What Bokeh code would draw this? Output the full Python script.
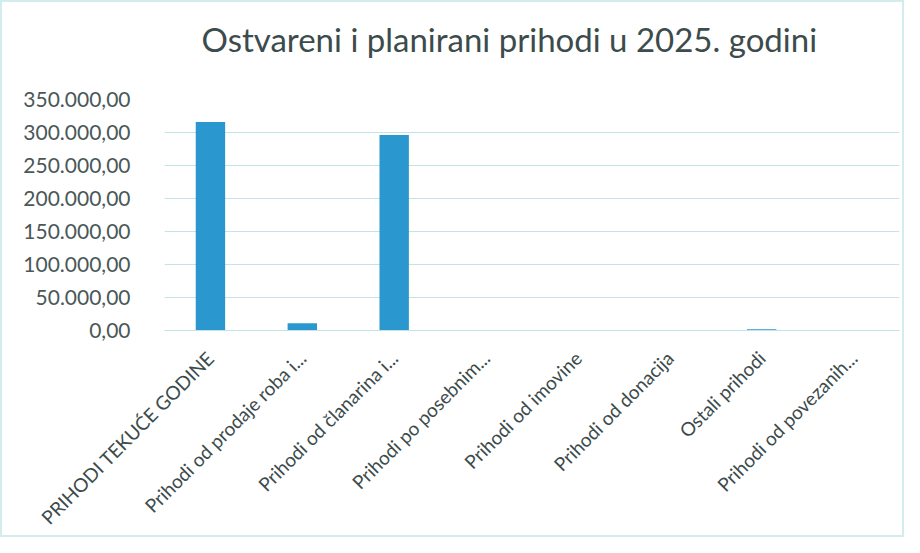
import math
from bokeh.plotting import figure
from bokeh.models import FixedTicker, ColumnDataSource, Title
from bokeh.embed import file_html
from bokeh.resources import INLINE

categories = [
    "PRIHODI TEKUĆE GODINE",
    "Prihodi od prodaje roba i...",
    "Prihodi od članarina i...",
    "Prihodi po posebnim...",
    "Prihodi od imovine",
    "Prihodi od donacija",
    "Ostali prihodi",
    "Prihodi od povezanih...",
]
values = [315800, 11000, 296200, 0, 0, 0, 2000, 0]

y_ticks = [0, 50000, 100000, 150000, 200000, 250000, 300000, 350000]
y_tick_labels = ["0,00", "50.000,00", "100.000,00", "150.000,00",
                 "200.000,00", "250.000,00", "300.000,00", "350.000,00"]

title_text = "Ostvareni i planirani prihodi u 2025. godini"

FONT = "Lato"
GRID = "#c3e4e6"
BAR = "#2a98cf"

source = ColumnDataSource(data=dict(cat=categories, val=values))

p = figure(
    x_range=categories, y_range=(0, 350000),
    width=904, height=537,
    output_backend="svg", toolbar_location=None,
    min_border_left=162, min_border_right=7,
    min_border_top=97, min_border_bottom=208,
)
p.styles = {"border": "2px solid #d3eced"}

p.vbar(x="cat", top="val", width=0.32, source=source,
       fill_color=BAR, line_color=None)

p.title.text = ""
p.title.standoff = 0

# blank spacer between the plot area and the title
spacer = Title(text=" ", text_font_size="10px", standoff=28)
p.add_layout(spacer, "above")

main_title = Title(
    text=title_text, align="left", offset=37, vertical_align="bottom",
    text_font=FONT, text_font_size="33px", text_font_style="normal",
    text_color="#3c4b4b", standoff=0,
)
p.add_layout(main_title, "above")

p.outline_line_color = None
p.background_fill_color = "white"
p.border_fill_color = "white"

p.xgrid.grid_line_color = None
p.ygrid.grid_line_color = GRID
p.ygrid.grid_line_width = 1.2

p.yaxis.ticker = FixedTicker(ticks=y_ticks)
p.yaxis.major_label_overrides = {t: l for t, l in zip(y_ticks, y_tick_labels)}
p.yaxis.axis_line_color = None
p.yaxis.major_tick_line_color = None
p.yaxis.minor_tick_line_color = None
p.yaxis.major_label_text_font = FONT
p.yaxis.major_label_text_font_size = "21px"
p.yaxis.major_label_text_color = "#4a5858"
p.yaxis.major_label_standoff = 28

p.xaxis.axis_line_color = GRID
p.xaxis.axis_line_width = 1.2
p.xaxis.major_tick_line_color = None
p.xaxis.minor_tick_line_color = None
p.xaxis.major_label_orientation = math.pi / 4
p.xaxis.major_label_text_font = FONT
p.xaxis.major_label_text_font_size = "19px"
p.xaxis.major_label_text_color = "#3c4b4b"
p.xaxis.major_label_standoff = 18
p.x_range.range_padding = 0

open("out.html", "w").write(file_html(p, INLINE))
